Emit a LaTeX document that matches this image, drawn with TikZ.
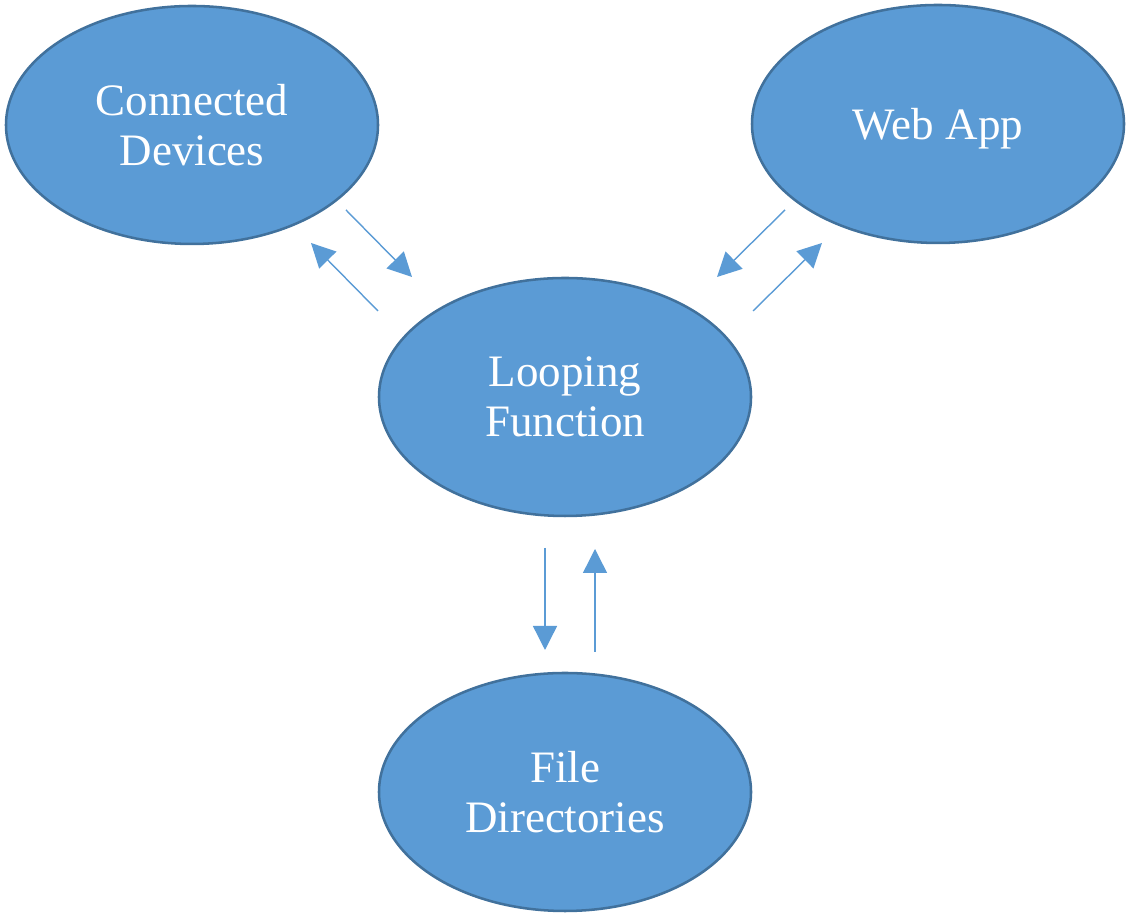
\documentclass[tikz,border=0pt]{standalone}
\usepackage{fontspec}
\setmainfont{Liberation Serif}
\usepackage{tikz}
\usepackage{xcolor}
\usetikzlibrary{shapes.geometric, arrows.meta}
\definecolor{bubblecolor}{RGB}{91,155,213}
\definecolor{edgecolor}{RGB}{65,113,156}
\definecolor{arrowcolor}{RGB}{91,155,213}

\begin{document}
\begin{tikzpicture}[
    bubble/.style={draw=edgecolor, line width=1.8pt, ellipse, fill=bubblecolor, minimum width=9.3cm, minimum height=5.95cm, inner sep=0pt, align=center, text=white, font=\fontsize{32}{36}\selectfont},
    flow/.style={-{Triangle[length=0.6cm, width=0.6cm]}, line width=1pt, arrowcolor}
  ]
    \useasboundingbox (0,0) rectangle (28.2,22.875);

    % Ellipses
    \node[bubble] (devices) at (4.8,19.75) {Connected\\Devices};
    \node[bubble, text depth=0pt] (webapp) at (23.45,19.775) {Web App};
    \node[bubble] (loop) at (14.125,12.95) {Looping\\Function};
    \node[bubble] (files) at (14.125,3.075) {File\\Directories};

    % Arrow ends
    \coordinate (devout) at (8.65,17.625);
    \coordinate (loopin1) at (10.3,15.95);
    \coordinate (loopout1) at (9.45,15.1);
    \coordinate (devin) at (7.775,16.8);

    \coordinate (webout) at (19.625,17.625);
    \coordinate (loopin2) at (17.925,15.95);
    \coordinate (loopout2) at (18.825,15.1);
    \coordinate (webin) at (20.55,16.8);

    \coordinate (loopout3) at (13.625,9.175);
    \coordinate (filesin) at (13.625,6.625);
    \coordinate (filesout) at (14.875,6.575);
    \coordinate (loopin3) at (14.875,9.15);

    % Arrows
    \draw[flow] (devout) -- (loopin1);
    \draw[flow] (loopout1) -- (devin);
    \draw[flow] (webout) -- (loopin2);
    \draw[flow] (loopout2) -- (webin);
    \draw[flow] (loopout3) -- (filesin);
    \draw[flow] (filesout) -- (loopin3);
\end{tikzpicture}
\end{document}
